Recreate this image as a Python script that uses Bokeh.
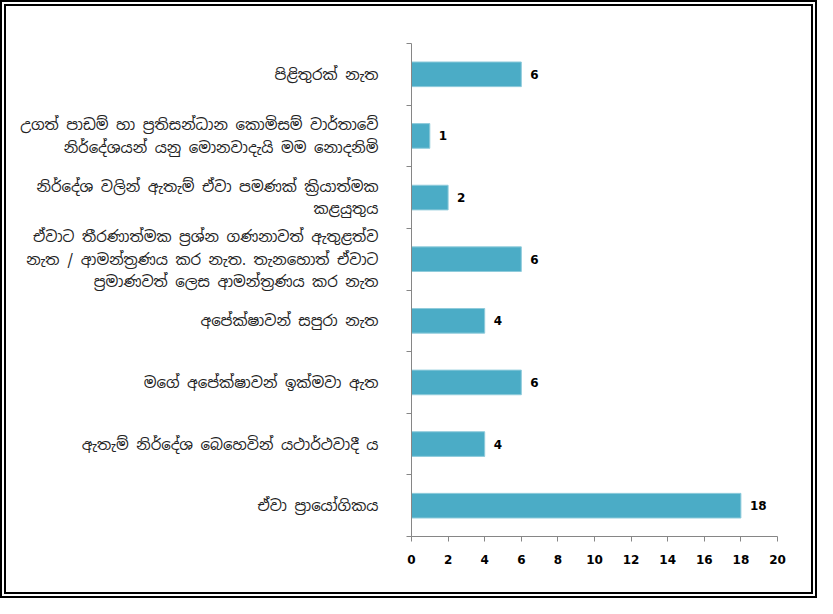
from bokeh.plotting import figure
from bokeh.models import ColumnDataSource, Range1d, FixedTicker
from bokeh.core.properties import value
from bokeh.embed import file_html
from bokeh.resources import INLINE

# categories from top to bottom
categories = [
    "පිළිතුරක් නැත",
    "උගත් පාඩම් හා ප්‍රතිසන්ධාන කොමිසම් වාර්තාවේ\nනිර්දේශයන් යනු මොනවාදැයි මම නොදනිමි",
    "නිර්දේශ වලින් ඇතැම් ඒවා පමණක් ක්‍රියාත්මක\nකළයුතුය",
    "ඒවාට තීරණාත්මක ප්‍රශ්න ගණනාවත් ඇතුළත්ව\nනැත / ආමන්ත්‍රණය කර නැත. තැනහොත් ඒවාට\nප්‍රමාණවත් ලෙස ආමන්ත්‍රණය කර නැත",
    "අපේක්ෂාවන් සපුරා නැත",
    "මගේ අපේක්ෂාවන් ඉක්මවා ඇත",
    "ඇතැම් නිර්දේශ බෙහෙවින් යථාර්ථවාදී ය",
    "ඒවා ප්‍රායෝගිකය",
]
counts = [6, 1, 2, 6, 4, 6, 4, 18]
x_ticks = [0, 2, 4, 6, 8, 10, 12, 14, 16, 18, 20]

n = len(categories)
ypos = [n - 0.5 - i for i in range(n)]
boundaries = list(range(n + 1))

src = ColumnDataSource(dict(y=ypos, v=counts, lab=[str(c) for c in counts]))

p = figure(width=817, height=598, output_backend="svg", toolbar_location=None,
           x_range=Range1d(0, 20), y_range=Range1d(0, n),
           min_border_left=405, min_border_right=46, min_border_top=37, min_border_bottom=68)
p.outline_line_color = None
p.xgrid.grid_line_color = None
p.ygrid.grid_line_color = None
p.background_fill_color = "white"
p.border_fill_color = "white"
p.styles = {"border": "6px double black", "box-sizing": "border-box"}

p.hbar(y="y", right="v", left=0, height=0.4, source=src,
       fill_color="#4BACC6", line_color="#8FCBDB", line_width=1)

p.text(x="v", y="y", text="lab", source=src, x_offset=9,
       text_align="left", text_baseline="middle",
       text_font=value("DejaVu Sans"), text_font_style="bold",
       text_font_size="12px", text_color="black")

# x axis
xa = p.xaxis[0]
xa.ticker = FixedTicker(ticks=x_ticks)
xa.axis_line_color = "#868686"
xa.major_tick_line_color = "#868686"
xa.major_tick_out = 5
xa.major_tick_in = 0
xa.minor_tick_line_color = None
xa.major_label_text_font = "DejaVu Sans"
xa.major_label_text_font_style = "bold"
xa.major_label_text_font_size = "12px"
xa.major_label_text_color = "black"
xa.major_label_standoff = 13

# y axis
ya = p.yaxis[0]
ya.ticker = FixedTicker(ticks=ypos, minor_ticks=boundaries)
ya.major_label_overrides = {y: c for y, c in zip(ypos, categories)}
ya.axis_line_color = "#868686"
ya.major_tick_line_color = None
ya.major_tick_out = 0
ya.major_tick_in = 0
ya.minor_tick_line_color = "#868686"
ya.minor_tick_out = 5
ya.minor_tick_in = 0
ya.major_label_text_font = "'Noto Sans Sinhala', 'Iskoola Pota', 'Noto Sans', sans-serif"
ya.major_label_text_font_size = "15px"
ya.major_label_text_color = "#222222"
ya.major_label_standoff = 28

open("out.html", "w").write(file_html(p, INLINE))
